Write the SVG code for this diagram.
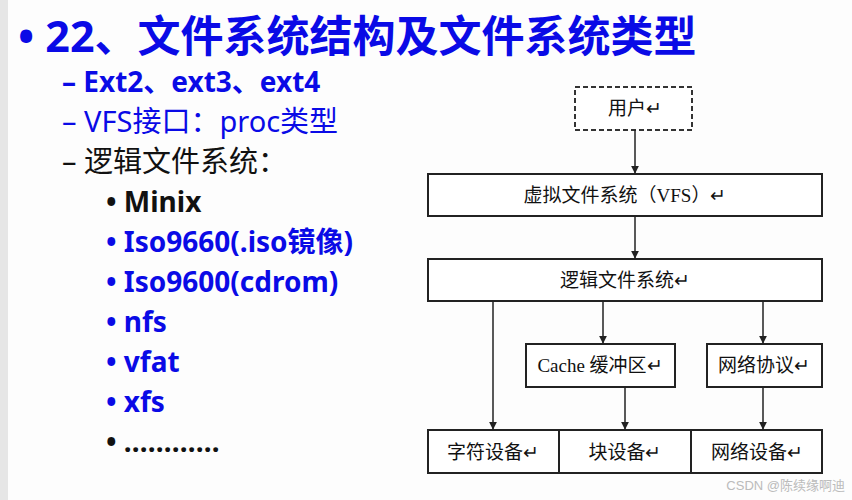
<svg xmlns="http://www.w3.org/2000/svg" width="852" height="500" viewBox="0 0 852 500">
<defs>
<style>
.b{fill:#fff;stroke:#222;stroke-width:2}
.t{font-family:"Liberation Serif","Noto Sans CJK SC",serif;font-size:19px;fill:#111;text-anchor:middle}
.c{stroke:#222;stroke-width:1.5;fill:none;marker-end:url(#a)}
.l{font-family:"Noto Sans","Noto Sans CJK SC",sans-serif;fill:#0a0ae6}
.k{fill:#111}
</style>
<marker id="a" viewBox="0 0 10 10" refX="9" refY="5" markerWidth="8" markerHeight="8" orient="auto" markerUnits="userSpaceOnUse"><path d="M0,0 L10,5 L0,10 z" fill="#222"/></marker>
</defs>
<rect width="852" height="500" fill="#fdfdfd"/>
<rect width="8" height="500" fill="#e6e6e6"/>
<g id="text">
<text class="l" x="18" y="52" font-size="43" font-weight="bold">• 22、文件系统结构及文件系统类型</text>
<text class="l" x="62" y="92" font-size="28" font-weight="bold">– Ext2、ext3、ext4</text>
<text class="l" x="62" y="132" font-size="29">– VFS接口：proc类型</text>
<text class="l k" x="62" y="172" font-size="29">– 逻辑文件系统：</text>
<text class="l k" x="106" y="212" font-size="28" font-weight="bold">• Minix</text>
<text class="l" x="106" y="252" font-size="28" font-weight="bold">• Iso9660(.iso镜像)</text>
<text class="l" x="106" y="292" font-size="28" font-weight="bold">• Iso9600(cdrom)</text>
<text class="l" x="106" y="332" font-size="28" font-weight="bold">• nfs</text>
<text class="l" x="106" y="372" font-size="28" font-weight="bold">• vfat</text>
<text class="l" x="106" y="412" font-size="28" font-weight="bold">• xfs</text>
<text class="l k" x="106" y="452" font-size="28" font-weight="bold">• …………</text>
</g>
<g id="user"><rect x="575" y="87" width="117" height="43" fill="#fff" stroke="#333" stroke-width="2" stroke-dasharray="5,3"/><text class="t" x="635" y="115">用户↵</text></g>
<g id="vfs"><rect class="b" x="428" y="174" width="394" height="42"/><text class="t" x="625" y="202">虚拟文件系统（VFS）↵</text></g>
<g id="logic"><rect class="b" x="428" y="259" width="394" height="42"/><text class="t" x="625" y="287">逻辑文件系统↵</text></g>
<g id="cache"><rect class="b" x="526" y="344" width="149" height="43"/><text class="t" x="600" y="372">Cache 缓冲区↵</text></g>
<g id="netp"><rect class="b" x="707" y="344" width="115" height="43"/><text class="t" x="764" y="372">网络协议↵</text></g>
<g id="chr"><rect class="b" x="428" y="430" width="131" height="43"/><text class="t" x="493" y="459">字符设备↵</text></g>
<g id="blk"><rect class="b" x="559" y="430" width="132" height="43"/><text class="t" x="625" y="459">块设备↵</text></g>
<g id="netd"><rect class="b" x="691" y="430" width="131" height="43"/><text class="t" x="757" y="459">网络设备↵</text></g>
<g id="connectors">
<line class="c" x1="635" y1="130" x2="635" y2="173"/>
<line class="c" x1="635" y1="216" x2="635" y2="258"/>
<line class="c" x1="493" y1="301" x2="493" y2="429"/>
<line class="c" x1="603" y1="301" x2="603" y2="343"/>
<line class="c" x1="763" y1="301" x2="763" y2="343"/>
<line class="c" x1="625" y1="387" x2="625" y2="429"/>
<line class="c" x1="763" y1="387" x2="763" y2="429"/>
</g>
<text x="845" y="490" font-family="Liberation Sans,Noto Sans CJK SC,sans-serif" font-size="13" fill="#bbb" text-anchor="end">CSDN @陈续缘啊迪</text>
</svg>
